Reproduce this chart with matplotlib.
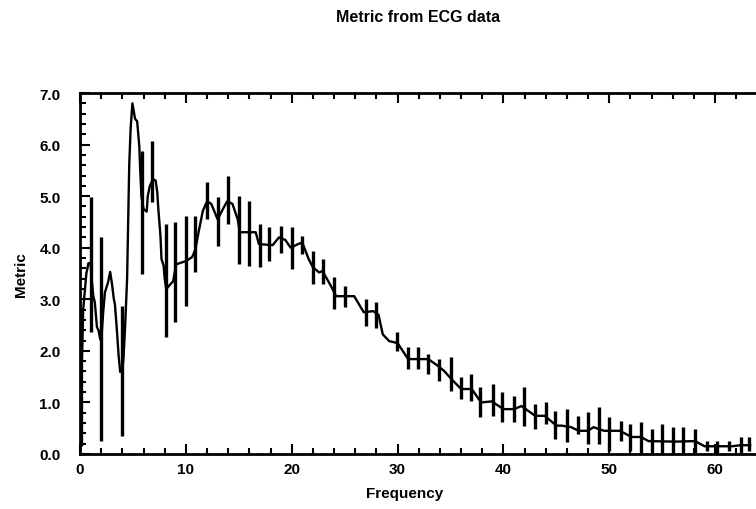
import numpy as np
import matplotlib.pyplot as plt
from matplotlib.ticker import MultipleLocator, FormatStrFormatter

plt.rcParams['font.family'] = ['Liberation Sans', 'DejaVu Sans']

# line (metric vs frequency)
freq_line = [0.0, 0.15, 0.3, 0.6, 0.8, 1.0, 1.1, 1.25, 1.4, 1.6, 1.75, 1.9, 2.0,
             2.2, 2.35, 2.65, 2.85, 3.0, 3.2, 3.3, 3.5, 3.65, 3.8, 4.0, 4.1, 4.25,
             4.45, 4.55, 4.65, 4.78, 4.95, 5.2, 5.4, 5.6, 5.7, 5.8, 6.0, 6.3, 6.4,
             6.6, 6.9, 7.15, 7.3, 7.4, 7.6, 7.7, 7.9, 8.0, 8.15, 8.4, 8.8, 9.0, 9.1,
             9.7, 10.0, 10.6, 10.9, 11.2, 11.6, 12.0, 12.4, 13.0, 13.5, 13.9, 14.4,
             14.9, 15.1, 16.6, 16.9, 18.2, 18.8, 19.4, 19.9, 20.6, 21.0, 21.6, 22.0,
             22.6, 22.9, 23.7, 24.2, 25.9, 26.8, 27.7, 28.2, 28.6, 29.2, 30.0, 31.0,
             32.9, 33.8, 34.4, 35.1, 36.0, 37.0, 37.9, 38.9, 40.0, 41.0, 41.7, 43.0,
             43.9, 45.0, 45.5, 46.4, 47.1, 48.0, 48.5, 49.5, 51.0, 52.1, 53.0, 53.7,
             56.2, 58.1, 59.0, 61.6, 62.4, 63.3]
metric_line = [1.6, 1.6, 2.8, 3.5, 3.7, 3.7, 3.4, 3.07, 2.94, 2.46, 2.4, 2.23, 2.2,
               2.77, 3.13, 3.33, 3.53, 3.33, 3.0, 2.9, 2.36, 1.9, 1.59, 1.65, 1.84, 2.42,
               3.4, 4.5, 5.6, 6.3, 6.8, 6.5, 6.45, 5.97, 5.46, 5.0, 4.75, 4.7, 5.0,
               5.2, 5.33, 5.3, 5.07, 4.75, 4.23, 3.78, 3.65, 3.4, 3.2, 3.26, 3.35, 3.59, 3.68,
               3.72, 3.74, 3.82, 3.97, 4.3, 4.71, 4.9, 4.85, 4.55, 4.75, 4.9, 4.85,
               4.55, 4.3, 4.3, 4.07, 4.05, 4.2, 4.15, 4.0, 4.07, 4.1, 3.78, 3.62,
               3.52, 3.55, 3.26, 3.06, 3.06, 2.75, 2.77, 2.7, 2.32, 2.19, 2.15, 1.84,
               1.84, 1.71, 1.61, 1.45, 1.26, 1.26, 1.0, 1.02, 0.87, 0.87, 0.93, 0.74,
               0.74, 0.55, 0.55, 0.52, 0.45, 0.45, 0.52, 0.45, 0.45, 0.33, 0.33, 0.25,
               0.24, 0.25, 0.15, 0.15, 0.17, 0.17]

# error bars: position, lower and upper end
bar_freq = [0.1, 1.0, 2.0, 4.0, 5.9, 6.8, 8.1, 9.0, 10.0, 10.9, 12.0, 13.0, 14.0,
            15.0, 16.0, 17.0, 17.9, 19.0, 20.0, 21.0, 22.0, 23.0, 24.0, 25.0, 27.0,
            28.0, 29.9, 31.0, 31.9, 32.9, 33.9, 35.0, 36.0, 36.9, 37.8, 39.0, 39.9,
            41.0, 41.9, 43.0, 44.0, 44.9, 46.0, 47.0, 48.0, 49.0, 50.0, 51.1, 52.0,
            53.0, 54.0, 55.0, 56.0, 57.0, 58.1, 59.2, 60.2, 61.3, 62.4, 63.2]
bar_low = [0.15, 2.36, 0.25, 0.35, 3.5, 4.88, 2.27, 2.56, 2.87, 3.52, 4.55, 4.04, 4.46,
           3.68, 3.65, 3.62, 3.74, 3.9, 3.59, 3.88, 3.3, 3.29, 2.81, 2.85, 2.48,
           2.45, 2.0, 1.65, 1.65, 1.55, 1.41, 1.22, 1.07, 1.03, 0.72, 0.74, 0.62,
           0.62, 0.54, 0.48, 0.58, 0.29, 0.23, 0.39, 0.19, 0.19, 0.06, 0.25, 0.06,
           0.0, 0.0, 0.0, 0.0, 0.0, 0.0, 0.05, 0.0, 0.05, 0.0, 0.05]
bar_high = [2.8, 4.98, 4.2, 2.87, 5.87, 6.07, 4.46, 4.5, 4.62, 4.62, 5.27, 4.98, 5.39,
            5.0, 4.9, 4.46, 4.4, 4.42, 4.4, 4.22, 3.94, 3.78, 3.43, 3.26, 3.0,
            2.95, 2.36, 2.07, 2.07, 1.94, 1.84, 1.88, 1.49, 1.55, 1.3, 1.36, 1.2,
            1.12, 1.3, 0.97, 1.0, 0.84, 0.87, 0.74, 0.81, 0.91, 0.72, 0.64, 0.58,
            0.62, 0.48, 0.58, 0.52, 0.52, 0.48, 0.25, 0.25, 0.25, 0.33, 0.33]

fig = plt.figure(figsize=(7.56, 5.10), dpi=100)
ax = fig.add_axes([80/756, 55/510, 1 - 80/756 + 0.002, 361/510])

ax.plot(freq_line, metric_line, color='black', lw=1.7)
ax.vlines(bar_freq, bar_low, bar_high, color='black', lw=2.4)

ax.set_xlim(0, 64)
ax.set_ylim(0, 7)
ax.xaxis.set_major_locator(MultipleLocator(10))
ax.xaxis.set_minor_locator(MultipleLocator(2))
ax.yaxis.set_major_locator(MultipleLocator(1))
ax.yaxis.set_minor_locator(MultipleLocator(0.2))
ax.yaxis.set_major_formatter(FormatStrFormatter('%.1f'))

ax.tick_params(which='both', direction='in', top=True, right=False, width=1.5,
               labelsize=11)
ax.tick_params(which='major', length=7)
ax.tick_params(which='minor', length=4)
ax.tick_params(axis='y', pad=14)
ax.tick_params(axis='x', pad=6)
for lab in ax.get_xticklabels() + ax.get_yticklabels():
    lab.set_fontweight('bold')

for side in ['left', 'bottom', 'top']:
    ax.spines[side].set_linewidth(2)
ax.spines['right'].set_visible(False)

ax.set_xlabel('Frequency', fontsize=11, fontweight='bold')
ax.xaxis.set_label_coords((404 - 80) / 676, -0.09)
ax.set_ylabel('Metric', fontsize=11, fontweight='bold', labelpad=8)
fig.text(418/756, 1 - 17/510, 'Metric from ECG data', ha='center', va='center',
         fontsize=11.5, fontweight='bold')

fig.savefig('out.png', dpi=100)
